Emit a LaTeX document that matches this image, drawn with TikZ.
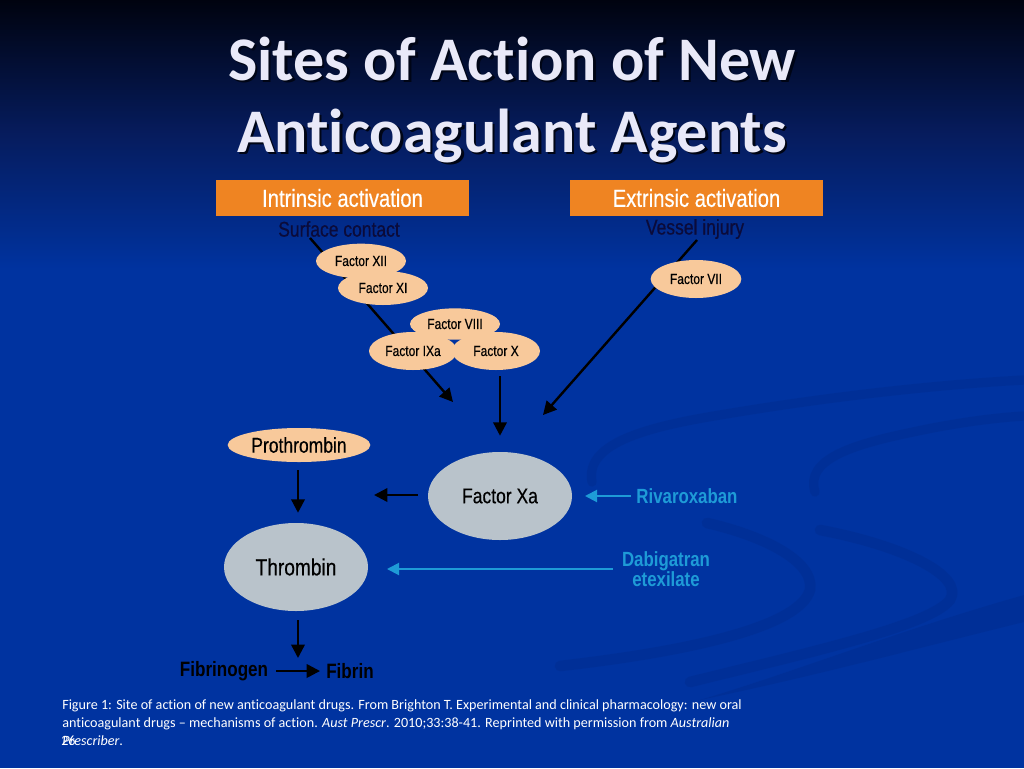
\documentclass[tikz,border=0pt]{standalone}
\usepackage{fontspec}
\setmainfont{Carlito}[Ligatures=NoCommon]
\newfontfamily\cond[FakeStretch=0.82,FakeBold=0.4]{Liberation Sans}
\newfontfamily\condb[FakeStretch=0.82]{Liberation Sans Bold}
\usetikzlibrary{arrows.meta,calc,shapes.geometric}
\pgfdeclarelayer{back}
\pgfsetlayers{back,main}
\definecolor{bgtop}{HTML}{00030F}
\definecolor{bgmid}{HTML}{061C5E}
\definecolor{bgblue}{HTML}{0033A0}
\definecolor{swirlc}{HTML}{00277E}
\definecolor{hdrorange}{HTML}{EF8422}
\definecolor{peach}{HTML}{F8C99B}
\definecolor{greyell}{HTML}{B9C3CB}
\definecolor{cyanc}{HTML}{1E9BD7}
\definecolor{navytext}{HTML}{0B0B3A}
\definecolor{titlec}{HTML}{E9E9F8}
\definecolor{shadowc}{HTML}{000516}
\tikzset{
  hdr/.style={fill=hdrorange, text=white, minimum width=190pt, minimum height=27pt, inner sep=0pt, font=\cond\fontsize{18.5}{20}\selectfont},
  src/.style={text=navytext, inner sep=0pt, font=\cond\fontsize{16}{18}\selectfont},
  fac/.style={ellipse, fill=peach, inner sep=0pt, font=\cond\fontsize{11}{12}\selectfont},
  big/.style={ellipse, fill=greyell, inner sep=0pt, minimum width=108pt, minimum height=66pt},
  drug/.style={text=cyanc, inner sep=0pt, align=center, font=\condb\fontsize{15.4}{15.5}\selectfont},
  arr/.style={line width=1.8pt, -{Triangle[length=10pt,width=10pt]}},
  carr/.style={cyanc, line width=1.5pt, -{Triangle[length=9pt,width=9pt]}},
  ttl/.style={font=\bfseries\fontsize{46.5}{50}\selectfont, inner sep=0pt, anchor=base},
  captxt/.style={text=white, inner sep=0pt, anchor=base west, font=\fontsize{10.6}{12}\selectfont},
  swirl/.style={swirlc, opacity=0.25, line cap=round}
}
\begin{document}
\begin{tikzpicture}[x=0.75pt,y=-0.75pt]
\useasboundingbox (0,0) rectangle (1024,768);
\begin{pgfonlayer}{back}
  \fill[bgblue] (0,0) rectangle (1024,768);
  \fill[top color=bgtop, bottom color=bgblue, middle color=bgmid] (0,0) rectangle (1024,270);
  % background swirls
  \draw[swirl, line width=7pt] (592,482) .. controls (585,445) and (640,428) .. (720,415) .. controls (820,398) and (930,385) .. (1024,380);
  \draw[swirl, line width=7pt] (815,492) .. controls (805,460) and (850,445) .. (913,432) .. controls (950,424) and (990,418) .. (1024,416);
  \draw[swirl, line width=8pt] (707,523) .. controls (760,535) and (815,560) .. (810,590) .. controls (800,625) and (700,650) .. (560,666);
  \draw[swirl, line width=8pt] (820,530) .. controls (900,545) and (965,575) .. (950,600) .. controls (930,625) and (820,650) .. (690,682);
  \fill[swirlc, opacity=0.25] (1024,595) .. controls (900,630) and (800,670) .. (700,700) .. controls (820,675) and (930,645) .. (1024,622) -- cycle;
\end{pgfonlayer}

% title
\node[ttl, text=shadowc] (t1s) at (514.5,82.5) {Sites of Action of New};
\node[ttl, text=shadowc] (t2s) at (514.5,154.5) {Anticoagulant Agents};
\node[ttl, text=titlec] (t1) at (512,80) {Sites of Action of New};
\node[ttl, text=titlec] (t2) at (512,152) {Anticoagulant Agents};

% headers
\node[hdr] (intr) at (342.5,198) {Intrinsic activation};
\node[hdr] (extr) at (696.5,198) {Extrinsic activation};
\node[src] (sc) at (339,229) {Surface contact};
\node[src] (vi) at (695,229) {Vessel injury};

% factors
\node[fac, minimum width=67.5pt, minimum height=26pt] (f12) at (361,261) {Factor XII};
\node[fac, minimum width=67.5pt, minimum height=25.5pt] (f11) at (383,288) {Factor XI};
\node[fac, minimum width=67.5pt, minimum height=23.5pt] (f8) at (455,324) {Factor VIII};
\node[fac, minimum width=66pt, minimum height=28.5pt] (f9) at (413,351) {Factor IXa};
\node[fac, minimum width=66pt, minimum height=28.5pt] (f10) at (496,351) {Factor X};
\node[fac, minimum width=68pt, minimum height=28.5pt] (f7) at (696,279) {Factor VII};

% lower nodes
\node[fac, minimum width=107pt, minimum height=25.5pt, font=\cond\fontsize{16}{18}\selectfont] (pro) at (299,445) {Prothrombin};
\node[big, font=\cond\fontsize{16}{18}\selectfont] (xa) at (500,496) {Factor Xa};
\node[big, font=\cond\fontsize{17.5}{18}\selectfont] (thr) at (296,567) {Thrombin};
\node[inner sep=0pt, font=\condb\fontsize{15.6}{18}\selectfont] (fbg) at (224,671) {Fibrinogen};
\node[inner sep=0pt, font=\condb\fontsize{15.6}{18}\selectfont] (fbn) at (350,671) {Fibrin};
\node[drug] (riv) at (687,496) {Rivaroxaban};
\node[drug] (dab) at (666,569) {Dabigatran\\etexilate};

% free ends of the long arrows
\coordinate (i0) at (310,238);
\coordinate (i1) at (453,402);
\coordinate (e0) at (697,240);
\coordinate (e1) at (543,415);
\coordinate (xl) at (374,495);
\coordinate (rv) at (585,496);
\coordinate (db) at (387,569);

\begin{pgfonlayer}{back}
  \draw[arr] (i0) -- (i1);
  \draw[arr] (e0) -- (e1);
\end{pgfonlayer}
\draw[arr] ($(f10.south)+(4,6)$) -- ($(xa.north)+(0,-16)$);
\draw[arr] ($(pro.south)+(-1,8)$) -- ($(thr.north)+(2,-10)$);
\draw[arr] ($(xa.west)+(-10,-1)$) -- (xl);
\draw[arr] ($(thr.south)+(2,9)$) -- ($(fbg.north)+(74,-3)$);
\draw[arr] ($(fbg.east)+(8,0)$) -- ($(fbn.west)+(-6,0)$);
\draw[carr] ($(riv.west)+(-5,0)$) -- (rv);
\draw[carr] ($(dab.west)+(-9,0)$) -- (db);

% caption
\node[captxt] (c1) at (62,709) {Figure 1: Site of action of new anticoagulant drugs. From Brighton T. Experimental and clinical pharmacology: new oral};
\node[captxt] (c2) at (62,727) {anticoagulant drugs – mechanisms of action. \textit{Aust Prescr}. 2010;33:38-41. Reprinted with permission from \textit{Australian}};
\node[captxt] (c3) at (62,745) {\textit{Prescriber}.};
\node[captxt] (num) at (61,745) {26};
\end{tikzpicture}
\end{document}
